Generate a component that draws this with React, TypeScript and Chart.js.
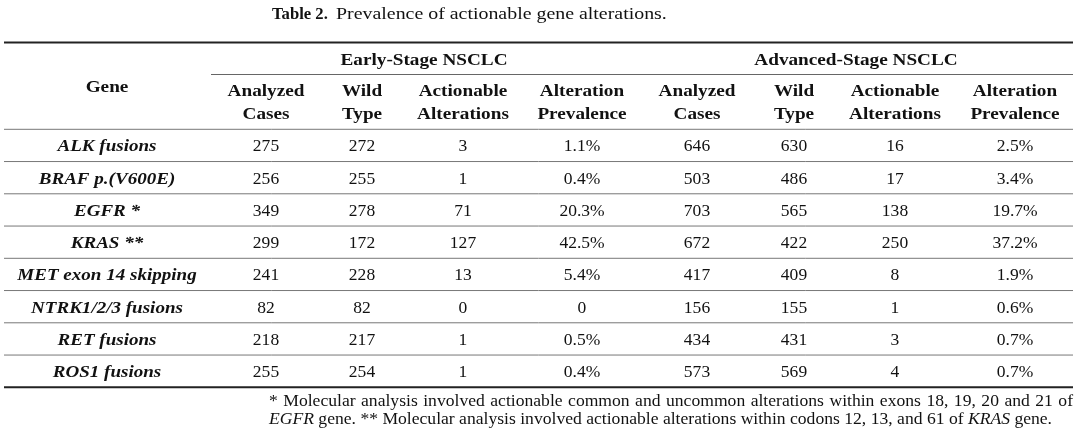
import React, { useEffect, useRef } from 'react';
import { Chart, registerables } from 'chart.js';

Chart.register(...registerables);

// ---------- data ----------
const titleLabel = 'Table 2.';
const titleText = 'Prevalence of actionable gene alterations.';
const groupLabels = ['Early-Stage NSCLC', 'Advanced-Stage NSCLC'];
const geneHeader = 'Gene';
const columnHeaders = [
  ['Analyzed', 'Cases'],
  ['Wild', 'Type'],
  ['Actionable', 'Alterations'],
  ['Alteration', 'Prevalence'],
  ['Analyzed', 'Cases'],
  ['Wild', 'Type'],
  ['Actionable', 'Alterations'],
  ['Alteration', 'Prevalence'],
];
const genes = [
  'ALK fusions',
  'BRAF p.(V600E)',
  'EGFR *',
  'KRAS **',
  'MET exon 14 skipping',
  'NTRK1/2/3 fusions',
  'RET fusions',
  'ROS1 fusions',
];
const earlyAnalyzed = [275, 256, 349, 299, 241, 82, 218, 255];
const earlyWild = [272, 255, 278, 172, 228, 82, 217, 254];
const earlyActionable = [3, 1, 71, 127, 13, 0, 1, 1];
const earlyPrevalence = ['1.1%', '0.4%', '20.3%', '42.5%', '5.4%', '0', '0.5%', '0.4%'];
const advAnalyzed = [646, 503, 703, 672, 417, 156, 434, 573];
const advWild = [630, 486, 565, 422, 409, 155, 431, 569];
const advActionable = [16, 17, 138, 250, 8, 1, 3, 4];
const advPrevalence = ['2.5%', '3.4%', '19.7%', '37.2%', '1.9%', '0.6%', '0.7%', '0.7%'];
const footnoteLine1 =
  '* Molecular analysis involved actionable common and uncommon alterations within exons 18, 19, 20 and 21 of';
const footnoteLine2: [string, boolean][] = [
  ['EGFR', true],
  [' gene. ** Molecular analysis involved actionable alterations within codons 12, 13, and 61 of ', false],
  ['KRAS', true],
  [' gene.', false],
];

// ---------- layout / style ----------
const W = 1080;
const H = 436;
const FAMILY = '"Liberation Serif", "Times New Roman", serif';
const FS = 17;
const FOOT_FS = 16;
const TEXT_COLOR = '#111';
const STRETCH_TITLE = 1.17;
const STRETCH_HEAD = 1.13;
const STRETCH_GENE = 1.12;
const STRETCH_NUM = 1.03;
const STRETCH_FOOT = 1.1;
const colX = [107, 266, 362, 463, 582, 697, 794, 895, 1015];
const groupX = [424, 856];
const tableLeft = 4;
const tableRight = 1073;
const groupLineLeft = 211;
const topRuleY = 42.5;
const groupY = 61;
const groupLineY = 74.5;
const headLine1Y = 92;
const headLine2Y = 114.5;
const geneHeadY = 88;
const headBottomY = 129.3;
const rowH = 32.25;
const textShift = 1.5;
const titleX = 272;
const titleTextX = 336;
const titleY = 14.5;
const footX = 269;
const footY1 = 402;
const footY2 = 419.5;

const tablePlugin = {
  id: 'tableDraw',
  afterDraw(chart: any) {
    const ctx: CanvasRenderingContext2D = chart.ctx;
    const xs = chart.scales.x;
    const ys = chart.scales.y;
    const X = (v: number) => xs.getPixelForValue(v);
    const Y = (v: number) => ys.getPixelForValue(v);
    const font = (style: string, weight: string, size = FS) => `${style} ${weight} ${size}px ${FAMILY}`;

    const text = (t: string, x: number, y: number, align: string, stretch: number) => {
      const w = ctx.measureText(t).width * stretch;
      const left = align === 'center' ? x - w / 2 : align === 'right' ? x - w : x;
      ctx.save();
      ctx.translate(left, y);
      ctx.scale(stretch, 1);
      ctx.textAlign = 'left';
      ctx.fillText(t, 0, 0);
      ctx.restore();
      return w;
    };

    ctx.save();
    ctx.fillStyle = TEXT_COLOR;
    ctx.textBaseline = 'middle';

    const hLine = (x1: number, x2: number, y: number, w: number, c: string) => {
      ctx.beginPath();
      ctx.strokeStyle = c;
      ctx.lineWidth = w;
      ctx.moveTo(X(x1), Y(y));
      ctx.lineTo(X(x2), Y(y));
      ctx.stroke();
    };

    // title
    ctx.font = font('normal', 'bold');
    text(titleLabel, X(titleX), Y(titleY), 'left', 0.98);
    ctx.font = font('normal', 'normal');
    text(titleText, X(titleTextX), Y(titleY), 'left', STRETCH_TITLE);

    // rules
    hLine(tableLeft, tableRight, topRuleY, 2, '#222');
    hLine(groupLineLeft, tableRight, groupLineY, 1, '#666');
    hLine(tableLeft, tableRight, headBottomY, 1, '#777');

    // header
    ctx.font = font('normal', 'bold');
    groupLabels.forEach((g, i) => text(g, X(groupX[i]), Y(groupY), 'center', STRETCH_HEAD));
    text(geneHeader, X(colX[0]), Y(geneHeadY), 'center', STRETCH_HEAD);
    columnHeaders.forEach((h, i) => {
      text(h[0], X(colX[i + 1]), Y(headLine1Y), 'center', STRETCH_HEAD);
      text(h[1], X(colX[i + 1]), Y(headLine2Y), 'center', STRETCH_HEAD);
    });

    // body
    const cols = [
      earlyAnalyzed,
      earlyWild,
      earlyActionable,
      earlyPrevalence,
      advAnalyzed,
      advWild,
      advActionable,
      advPrevalence,
    ];
    genes.forEach((g, r) => {
      const cy = headBottomY + rowH * (r + 0.5) + textShift;
      ctx.font = font('italic', 'bold');
      text(g, X(colX[0]), Y(cy), 'center', STRETCH_GENE);
      ctx.font = font('normal', 'normal');
      cols.forEach((c, i) => text(String(c[r]), X(colX[i + 1]), Y(cy), 'center', STRETCH_NUM));
      if (r < genes.length - 1) hLine(tableLeft, tableRight, headBottomY + rowH * (r + 1), 1, '#777');
    });
    hLine(tableLeft, tableRight, headBottomY + rowH * genes.length, 2, '#222');

    // footnote line 1 (justified)
    ctx.font = font('normal', 'normal', FOOT_FS);
    const words = footnoteLine1.split(' ');
    const wordsW = words.reduce((s, w) => s + ctx.measureText(w).width * STRETCH_FOOT, 0);
    const gap = (X(tableRight) - X(footX) - wordsW) / (words.length - 1);
    let fx = X(footX);
    words.forEach((w) => {
      fx += text(w, fx, Y(footY1), 'left', STRETCH_FOOT) + gap;
    });
    // footnote line 2
    fx = X(footX);
    footnoteLine2.forEach(([t, it]) => {
      ctx.font = font(it ? 'italic' : 'normal', 'normal', FOOT_FS);
      fx += text(t, fx, Y(footY2), 'left', STRETCH_FOOT);
    });

    ctx.restore();
  },
};

export default function App() {
  const ref = useRef<HTMLCanvasElement>(null);
  useEffect(() => {
    document.body.style.margin = '0';
    const canvas = ref.current!;
    const chart = new Chart(canvas, {
      type: 'scatter',
      data: { datasets: [{ data: [], pointRadius: 0 }] },
      options: {
        animation: false,
        responsive: false,
        maintainAspectRatio: false,
        layout: { padding: 0 },
        plugins: { legend: { display: false }, tooltip: { enabled: false }, title: { display: false } },
        scales: {
          x: { type: 'linear', min: 0, max: W, display: false },
          y: { type: 'linear', min: 0, max: H, reverse: true, display: false },
        },
      },
      plugins: [tablePlugin],
    });
    return () => chart.destroy();
  }, []);
  return (
    <div style={{ width: W, height: H, background: '#fff' }}>
      <canvas ref={ref} width={W} height={H} style={{ display: 'block' }} />
    </div>
  );
}
